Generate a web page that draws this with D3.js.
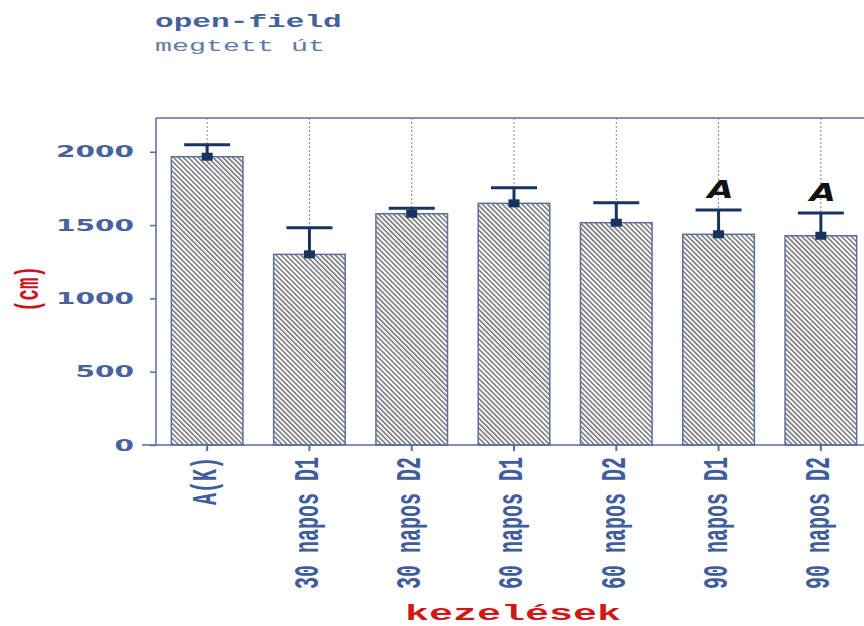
<!DOCTYPE html>
<html>
<head>
<meta charset="utf-8">
<script src="https://cdn.jsdelivr.net/npm/d3@7"></script>
<style>
  html, body { margin: 0; padding: 0; background: #ffffff; }
  svg { display: block; }
</style>
</head>
<body>
<script>
// Open-field test: distance travelled per treatment group
const categories = ["A(K)", "30 napos D1", "30 napos D2", "60 napos D1", "60 napos D2", "90 napos D1", "90 napos D2"];
const means = [1966, 1300, 1577, 1648, 1516, 1437, 1427];
const errors = [82, 182, 37, 106, 136, 165, 155];
const letters = ["", "", "", "", "", "A", "A"];
const yTicks = [0, 500, 1000, 1500, 2000];

const W = 864, H = 626;
const plotLeft = 156, plotTop = 118, plotBottom = 445, plotRight = 872;
const sx = 1.75; // horizontal text stretch

const svg = d3.select("body").append("svg").attr("width", W).attr("height", H);

const defs = svg.append("defs");
const pat = defs.append("pattern")
  .attr("id", "hatch")
  .attr("patternUnits", "userSpaceOnUse")
  .attr("width", 3.5).attr("height", 10)
  .attr("patternTransform", "rotate(-45)");
pat.append("rect").attr("width", 3.5).attr("height", 10).attr("fill", "#ffffff");
pat.append("line").attr("x1", 0.8).attr("x2", 0.8).attr("y1", 0).attr("y2", 10)
  .attr("stroke", "#3c3c44").attr("stroke-width", 1.1);

const x = d3.scaleBand().domain(categories).range([plotLeft, plotRight]).paddingInner(0.3).paddingOuter(0.15);
const y = d3.scaleLinear().domain([0, 2230]).range([plotBottom, plotTop]);

const axisColor = "#5a6d9a";
const tickColor = "#4862a0";

// frame: top edge
svg.append("line").attr("x1", plotLeft).attr("x2", plotRight).attr("y1", plotTop).attr("y2", plotTop)
  .attr("stroke", axisColor).attr("stroke-width", 1.5);

// dashed guides from frame to error caps
svg.append("g").selectAll("line").data(categories).join("line")
  .attr("x1", d => x(d) + x.bandwidth() / 2)
  .attr("x2", d => x(d) + x.bandwidth() / 2)
  .attr("y1", plotTop)
  .attr("y2", (d, i) => y(means[i] + errors[i]))
  .attr("stroke", "#8a8a8a").attr("stroke-width", 1).attr("stroke-dasharray", "2,2");

// bars
svg.append("g").selectAll("rect").data(categories).join("rect")
  .attr("x", d => x(d))
  .attr("width", x.bandwidth())
  .attr("y", (d, i) => y(means[i]))
  .attr("height", (d, i) => y(0) - y(means[i]))
  .attr("fill", "url(#hatch)")
  .attr("stroke", "#5c6f9b").attr("stroke-width", 1.5);

// error bars (upper) with caps
const eb = svg.append("g").attr("stroke", "#16345e").attr("stroke-width", 3);
eb.selectAll("line.v").data(categories).join("line").attr("class", "v")
  .attr("x1", d => x(d) + x.bandwidth() / 2)
  .attr("x2", d => x(d) + x.bandwidth() / 2)
  .attr("y1", (d, i) => y(means[i]))
  .attr("y2", (d, i) => y(means[i] + errors[i]));
eb.selectAll("line.c").data(categories).join("line").attr("class", "c")
  .attr("x1", d => x(d) + x.bandwidth() / 2 - 23)
  .attr("x2", d => x(d) + x.bandwidth() / 2 + 23)
  .attr("y1", (d, i) => y(means[i] + errors[i]))
  .attr("y2", (d, i) => y(means[i] + errors[i]));

// mean markers
svg.append("g").selectAll("rect").data(categories).join("rect")
  .attr("x", d => x(d) + x.bandwidth() / 2 - 5.5)
  .attr("y", (d, i) => y(means[i]) - 4)
  .attr("width", 11).attr("height", 8)
  .attr("fill", "#16345e");

// significance letters
svg.append("g").selectAll("text").data(categories.filter((d, i) => letters[i]))
  .join("text")
  .attr("transform", d => {
    const i = categories.indexOf(d);
    return `translate(${x(d) + x.bandwidth() / 2 + 2},${y(means[i] + errors[i]) - 12}) scale(1.35,1)`;
  })
  .attr("text-anchor", "middle")
  .attr("font-family", "DejaVu Sans")
  .attr("font-weight", "bold")
  .attr("font-style", "italic")
  .attr("font-size", 25)
  .attr("fill", "#111111")
  .text(d => letters[categories.indexOf(d)]);

// y axis
const yAxis = svg.append("g").attr("transform", `translate(${plotLeft},0)`)
  .call(d3.axisLeft(y).tickValues(yTicks).tickSize(6).tickFormat(""));
yAxis.select(".domain").attr("stroke", axisColor).attr("stroke-width", 1.5)
  .attr("d", `M0,${plotTop}V${plotBottom}`);
yAxis.selectAll(".tick line").attr("stroke", axisColor).attr("stroke-width", 1.5);

svg.append("g").selectAll("text").data(yTicks).join("text")
  .attr("transform", d => `translate(134,${y(d)}) scale(${sx},1)`)
  .attr("dy", "0.36em")
  .attr("text-anchor", "end")
  .attr("font-family", "DejaVu Sans")
  .attr("font-weight", "bold")
  .attr("font-size", 16)
  .attr("fill", tickColor)
  .text(d => d);

// x axis
const xAxis = svg.append("g").attr("transform", `translate(0,${plotBottom})`)
  .call(d3.axisBottom(x).tickSize(6).tickFormat(""));
xAxis.select(".domain").attr("stroke", axisColor).attr("stroke-width", 1.5)
  .attr("d", `M${plotLeft - 14},0H${plotRight}`);
xAxis.selectAll(".tick line").attr("stroke", axisColor).attr("stroke-width", 2);

svg.append("g").selectAll("text").data(categories).join("text")
  .attr("transform", d => `translate(${x(d) + x.bandwidth() / 2},457) scale(${sx},1) rotate(-90)`)
  .attr("dy", "0.24em")
  .attr("text-anchor", "end")
  .attr("font-family", "Liberation Mono")
  .attr("font-weight", "bold")
  .attr("font-size", 20)
  .attr("fill", "#3f5c9c")
  .text(d => d);

// axis titles
svg.append("text")
  .attr("transform", `translate(28,289) scale(${sx},1) rotate(-90)`)
  .attr("dy", "0.3em")
  .attr("text-anchor", "middle")
  .attr("font-family", "Liberation Mono")
  .attr("font-weight", "bold")
  .attr("font-size", 19)
  .attr("fill", "#c8141e")
  .text("(cm)");

svg.append("text")
  .attr("transform", `translate(513,620) scale(1.82,1)`)
  .attr("text-anchor", "middle")
  .attr("font-family", "Liberation Mono")
  .attr("font-weight", "bold")
  .attr("font-size", 22)
  .attr("fill", "#d01818")
  .text("kezelések");

// chart titles
svg.append("text")
  .attr("transform", `translate(155,26.5) scale(1.73,1)`)
  .attr("font-family", "Liberation Mono")
  .attr("font-weight", "bold")
  .attr("font-size", 18)
  .attr("fill", "#44619b")
  .text("open-field");

svg.append("text")
  .attr("transform", `translate(155,51) scale(1.77,1)`)
  .attr("font-family", "Liberation Mono")
  .attr("font-size", 16)
  .attr("fill", "#6479a3")
  .text("megtett út");
</script>
</body>
</html>
